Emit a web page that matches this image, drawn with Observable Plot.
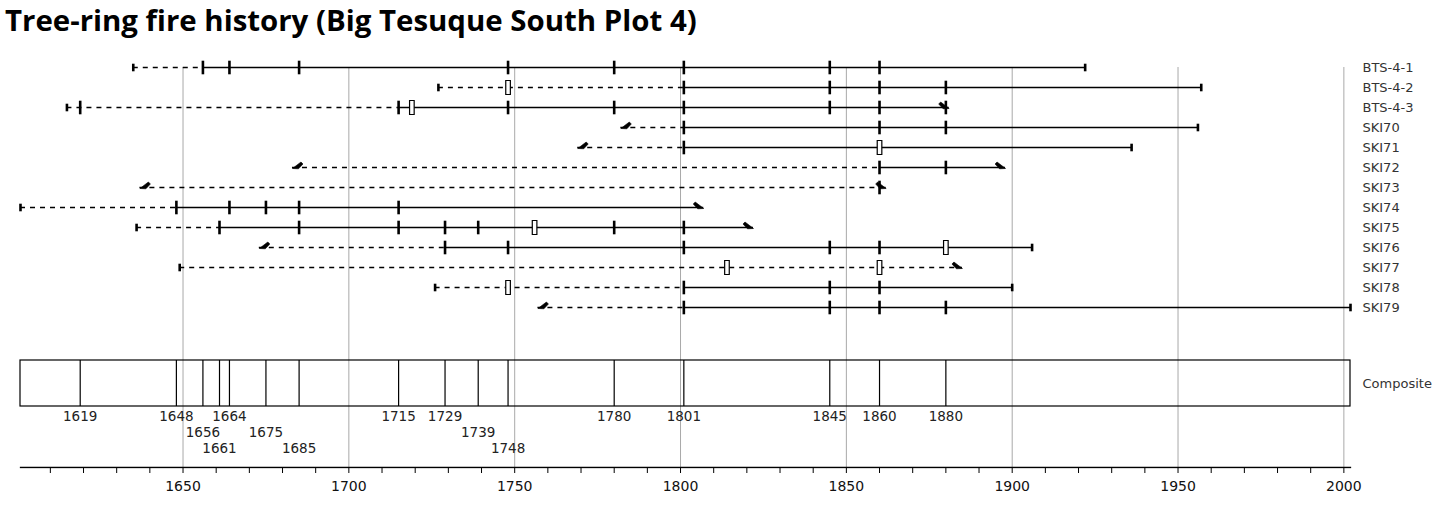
<!DOCTYPE html>
<html><head><meta charset="utf-8">
<script src="https://cdn.jsdelivr.net/npm/d3@7"></script>
<script src="https://cdn.jsdelivr.net/npm/@observablehq/plot@0.6"></script>
<style>
body{margin:0;background:#fff;width:1446px;height:508px;overflow:hidden;position:relative;font-family:"DejaVu Sans",sans-serif}
#title{position:absolute;left:5px;top:1px;font-family:"Open Sans",sans-serif;font-weight:700;font-size:25px;line-height:38px;color:#000;white-space:nowrap}
#a{position:absolute;left:0;top:45px}
#b{position:absolute;left:0;top:360px}
svg{overflow:visible}
</style></head><body>
<div id="title">Tree-ring fire history (Big Tesuque South Plot 4)</div>
<div id="a"></div><div id="b"></div>
<script>
// ---- data ----
const series = ["BTS-4-1","BTS-4-2","BTS-4-3","SKI70","SKI71","SKI72","SKI73","SKI74","SKI75","SKI76","SKI77","SKI78","SKI79"];
const firstYears = [1635,1727,1615,1782,1769,1683,1637,1601,1636,1673,1649,1726,1757];
const firstTypes = ["pith","pith","pith","inner","inner","inner","inner","pith","pith","inner","pith","pith","inner"];
const lastYears  = [1922,1957,1881,1956,1936,1898,1862,1807,1822,1906,1885,1900,2002];
const lastTypes  = ["bark","bark","outer","bark","bark","outer","outer","outer","outer","bark","outer","bark","bark"];
const recordingStart = [1656,1801,1715,1801,1801,1860,1860,1648,1661,1729,null,1801,1801];
const fireScars = [
  [1656,1664,1685,1748,1780,1801,1845,1860],
  [1801,1845,1860,1880],
  [1619,1715,1748,1780,1801,1845,1860,1880],
  [1801,1860,1880],
  [1801],
  [1860,1880],
  [1860],
  [1648,1664,1675,1685,1715],
  [1661,1685,1715,1729,1739,1780,1801],
  [1729,1748,1801,1845,1860],
  [],
  [1801,1845,1860],
  [1801,1845,1860,1880]
];
const injuries = [[],[1748],[1719],[],[1860],[],[],[],[1756],[1880],[1814,1860],[1748],[]];
const compositeYears = [1619,1648,1656,1661,1664,1675,1685,1715,1729,1739,1748,1780,1801,1845,1860,1880];
const compositeLabelLevels = [0,0,1,2,0,1,2,0,0,1,2,0,0,0,0,0];
const axisTicks = d3.range(1610, 2001, 10);
const gridYears = [1650,1700,1750,1800,1850,1900,1950,2000];

// ---- tables ----
const dashed = [], solid = [], fires = [], inj = [], ends = [];
series.forEach((name, i) => {
  const rs = recordingStart[i];
  dashed.push({name, x1: firstYears[i], x2: rs == null ? lastYears[i] : rs});
  if (rs != null) solid.push({name, x1: rs, x2: lastYears[i]});
  fireScars[i].forEach(year => fires.push({name, year}));
  injuries[i].forEach(year => inj.push({name, year}));
  ends.push({name, year: firstYears[i], type: firstTypes[i]});
  ends.push({name, year: lastYears[i], type: lastTypes[i]});
});
const xDomain = [d3.min(firstYears), d3.max(lastYears)];

// ---- custom glyphs ----
const tallTick = {draw(c){c.moveTo(0,-6.8);c.lineTo(0,6.8);}};
const shortTick = {draw(c){c.moveTo(0,-3.8);c.lineTo(0,3.8);}};
const injuryBox = {draw(c){c.rect(-2.3,-7,4.6,14);}};
const innerWedge = {draw(c){c.moveTo(0,1);c.lineTo(8.5,-5.5);c.lineTo(10.5,-3.5);c.lineTo(6,1.3);c.closePath();}};
const outerWedge = {draw(c){c.moveTo(0,1);c.lineTo(-8.5,-5.5);c.lineTo(-10.5,-3.5);c.lineTo(-6,1.3);c.closePath();}};

const W = 1446, ML = 20, MR = 96;
const grid = Plot.gridX(gridYears, {stroke: "#a9a9a9", strokeOpacity: 1, strokeWidth: 1});

const plotA = Plot.plot({
  width: W, height: 315, marginLeft: ML, marginRight: MR, marginTop: 22, marginBottom: 0,
  style: {fontFamily: "DejaVu Sans", background: "transparent"},
  x: {domain: xDomain, axis: null},
  y: {type: "point", domain: series, range: [22, 262], padding: 0, axis: null},
  marks: [
    grid,
    Plot.ruleY(dashed, {x1: "x1", x2: "x2", y: "name", stroke: "#000", strokeWidth: 1.4, strokeDasharray: "5,5"}),
    Plot.ruleY(solid, {x1: "x1", x2: "x2", y: "name", stroke: "#000", strokeWidth: 1.4}),
    Plot.dot(ends.filter(d => d.type === "pith" || d.type === "bark"), {x: "year", y: "name", symbol: shortTick, stroke: "#000", strokeWidth: 2.6, fill: "none"}),
    Plot.dot(ends.filter(d => d.type === "inner"), {x: "year", y: "name", symbol: innerWedge, fill: "#000", stroke: "#000", strokeWidth: 0.6}),
    Plot.dot(ends.filter(d => d.type === "outer"), {x: "year", y: "name", symbol: outerWedge, fill: "#000", stroke: "#000", strokeWidth: 0.6}),
    Plot.dot(fires, {x: "year", y: "name", symbol: tallTick, stroke: "#000", strokeWidth: 2.6, fill: "none"}),
    Plot.dot(inj, {x: "year", y: "name", symbol: injuryBox, stroke: "#000", strokeWidth: 1.2, fill: "#fff"}),
    Plot.axisY({anchor: "right", tickSize: 0, tickPadding: 12, fontSize: 13, fill: "#333", label: null})
  ]
});
document.getElementById("a").append(plotA);

const comp = compositeYears.map((year, i) => ({year, level: compositeLabelLevels[i]}));
const plotB = Plot.plot({
  width: W, height: 148, marginLeft: ML, marginRight: MR, marginTop: 0, marginBottom: 41,
  style: {fontFamily: "DejaVu Sans", background: "transparent"},
  x: {domain: xDomain, axis: null},
  y: {type: "band", domain: ["Composite"], range: [0, 46], padding: 0, axis: null},
  marks: [
    grid,
    Plot.barX([{name: "Composite", x1: xDomain[0], x2: xDomain[1]}], {x1: "x1", x2: "x2", y: "name", fill: "none", stroke: "#000", strokeWidth: 1.2}),
    Plot.tickX(comp, {x: "year", y: () => "Composite", stroke: "#000", strokeWidth: 1.2}),
    ...[0, 1, 2].map(L => Plot.text(comp.filter(d => d.level === L), {x: "year", y: () => "Composite", text: d => String(d.year), dy: 32.7 + 16.3 * L, fontSize: 13.5, fill: "#222"})),
    Plot.axisY({anchor: "right", tickSize: 0, tickPadding: 12, fontSize: 13, fill: "#333", label: null}),
    // axis base line: the frame collapsed onto its bottom edge
    Plot.frame({stroke: "#000", strokeWidth: 1.3, insetTop: 106.9}),
    Plot.axisX({ticks: axisTicks, anchor: "bottom", tickSize: 6, tickPadding: 8, fontSize: 14, fill: "#111", stroke: "#000", label: null, tickFormat: d => d % 50 === 0 ? String(d) : ""})
  ]
});
document.getElementById("b").append(plotB);

// fit the title to the reference width
const t = document.getElementById("title");
const cv = document.createElement("canvas").getContext("2d");
cv.font = '700 100px "Open Sans"';
const w = cv.measureText(t.textContent).width;
t.style.fontSize = (100 * 692 / w).toFixed(2) + "px";
</script>
</body></html>
